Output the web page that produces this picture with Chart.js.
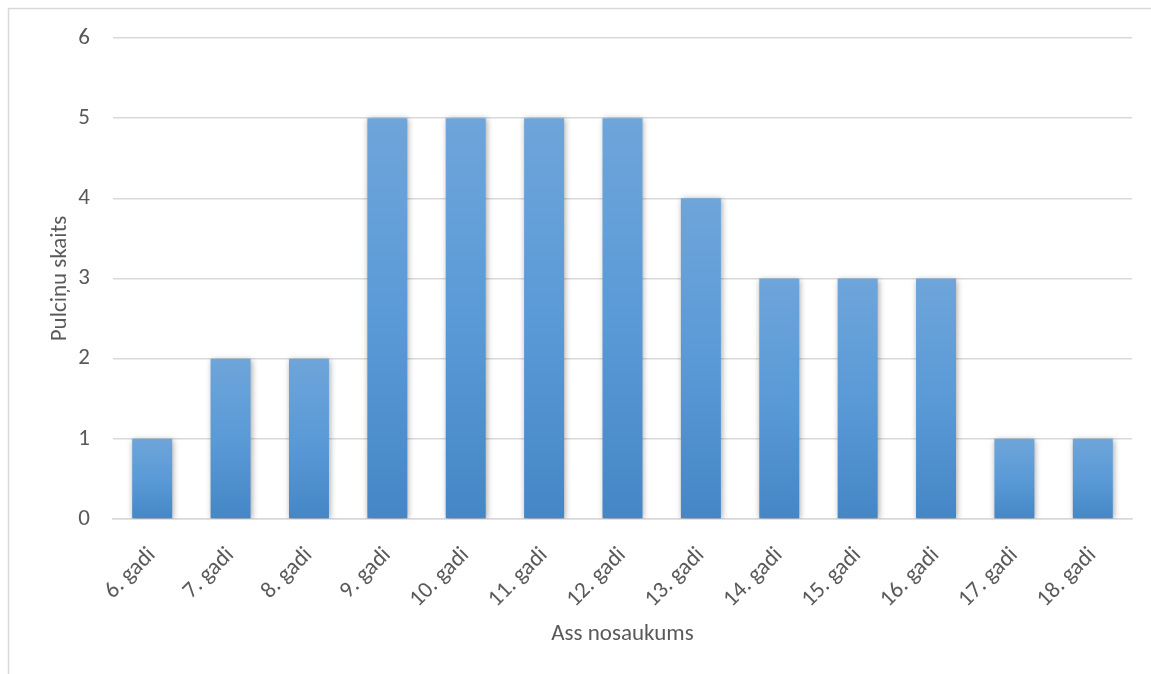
<!DOCTYPE html>
<html>
<head>
<meta charset="utf-8">
<script src="https://cdn.jsdelivr.net/npm/chart.js@4/dist/chart.umd.min.js"></script>
<style>
  html, body { margin: 0; padding: 0; background: #fff; }
  #wrap { position: relative; width: 1151px; height: 674px; }
  canvas { display: block; }
</style>
</head>
<body>
<div id="wrap"><canvas id="chart" width="1151" height="674"></canvas></div>
<script>
// Age groups and number of clubs for each
const categories = ['6. gadi', '7. gadi', '8. gadi', '9. gadi', '10. gadi', '11. gadi', '12. gadi',
                    '13. gadi', '14. gadi', '15. gadi', '16. gadi', '17. gadi', '18. gadi'];
const clubCounts = [1, 2, 2, 5, 5, 5, 5, 4, 3, 3, 3, 1, 1];
const yTicks = [0, 1, 2, 3, 4, 5, 6];

const yTitle = 'Pulciņu skaits';
const xTitle = 'Ass nosaukums';

const FONT = 'Carlito, Calibri, Lato, "Open Sans", sans-serif';
const FSIZE = 23;
const TEXT = '#595959';
const GRID = '#d9d9d9';

// Light frame along the top and left edges of the canvas
const framePlugin = {
  id: 'frame',
  beforeDraw(chart) {
    const ctx = chart.ctx;
    ctx.save();
    ctx.strokeStyle = '#d9d9d9';
    ctx.lineWidth = 1.5;
    ctx.beginPath();
    ctx.moveTo(8.5, chart.height);
    ctx.lineTo(8.5, 8.5);
    ctx.lineTo(chart.width, 8.5);
    ctx.stroke();
    ctx.restore();
  }
};

// Soft shadow behind the bars
const barShadowPlugin = {
  id: 'barShadow',
  beforeDatasetsDraw(chart) {
    const ctx = chart.ctx;
    ctx.save();
    ctx.shadowColor = 'rgba(0,0,0,0.35)';
    ctx.shadowBlur = 6;
    ctx.shadowOffsetX = 1;
    ctx.shadowOffsetY = 1;
  },
  afterDatasetsDraw(chart) {
    chart.ctx.restore();
  }
};

// Vertical gradient spanning each bar from its top to the zero line
function barGradient(context) {
  const chart = context.chart;
  const yScale = chart.scales.y;
  if (!chart.chartArea || !yScale || context.parsed == null) return '#5b9bd5';
  const top = yScale.getPixelForValue(context.parsed.y);
  const base = yScale.getPixelForValue(0);
  if (!isFinite(top) || !isFinite(base) || top === base) return '#5b9bd5';
  const g = chart.ctx.createLinearGradient(0, top, 0, base);
  g.addColorStop(0, '#6ea5da');
  g.addColorStop(0.5, '#5a9ad7');
  g.addColorStop(1, '#4586c6');
  return g;
}

new Chart(document.getElementById('chart'), {
  type: 'bar',
  data: {
    labels: categories,
    datasets: [{
      data: clubCounts,
      backgroundColor: barGradient,
      borderWidth: 0,
      categoryPercentage: 1,
      barPercentage: 0.51
    }]
  },
  options: {
    responsive: false,
    animation: false,
    devicePixelRatio: 1,
    layout: { padding: { top: 38, right: 19, bottom: 0, left: 0 } },
    plugins: {
      legend: { display: false },
      tooltip: { enabled: false }
    },
    scales: {
      x: {
        grid: { display: false },
        border: { display: true, color: GRID, width: 1.5 },
        ticks: {
          color: TEXT,
          font: { family: FONT, size: FSIZE },
          minRotation: 45,
          maxRotation: 45,
          padding: 15
        },
        title: {
          display: true,
          text: xTitle,
          color: TEXT,
          font: { family: FONT, size: FSIZE },
          padding: { top: 0, bottom: 26 }
        },
        afterFit(scale) { scale.height = 155; }
      },
      y: {
        min: 0,
        max: 6,
        afterBuildTicks(scale) { scale.ticks = yTicks.map(v => ({ value: v })); },
        grid: { color: GRID, lineWidth: 1.5, drawTicks: false },
        border: { display: false },
        ticks: {
          color: TEXT,
          font: { family: FONT, size: FSIZE },
          padding: 23
        },
        title: {
          display: true,
          text: yTitle,
          color: TEXT,
          font: { family: FONT, size: FSIZE },
          padding: { top: 46, bottom: 0 }
        },
        afterFit(scale) { scale.width = 113; }
      }
    }
  },
  plugins: [framePlugin, barShadowPlugin]
});
</script>
</body>
</html>
